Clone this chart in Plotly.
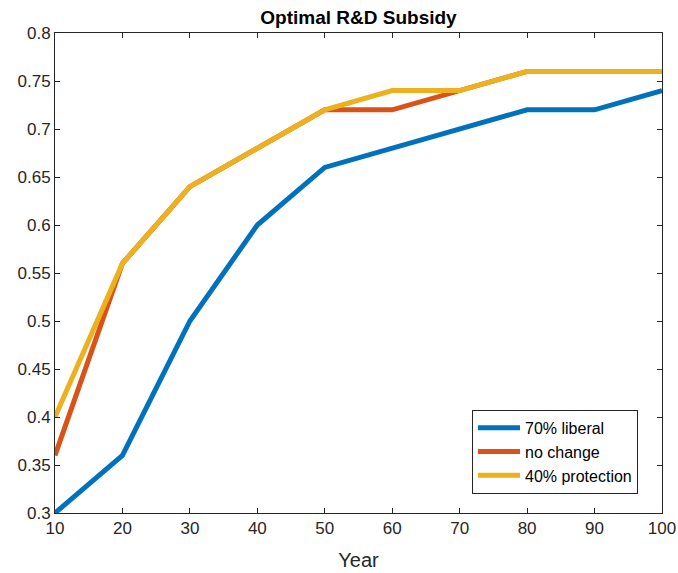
import plotly.graph_objects as go

years = [10, 20, 30, 40, 50, 60, 70, 80, 90, 100]
liberal_70 = [0.30, 0.36, 0.50, 0.60, 0.66, 0.68, 0.70, 0.72, 0.72, 0.74]
no_change = [0.36, 0.56, 0.64, 0.68, 0.72, 0.72, 0.74, 0.76, 0.76, 0.76]
protection_40 = [0.40, 0.56, 0.64, 0.68, 0.72, 0.74, 0.74, 0.76, 0.76, 0.76]

series_names = ["70% liberal", "no change", "40% protection"]
series_colors = ["#0072BD", "#D95319", "#EDB120"]

x_ticks = [10, 20, 30, 40, 50, 60, 70, 80, 90, 100]
y_ticks = [0.3, 0.35, 0.4, 0.45, 0.5, 0.55, 0.6, 0.65, 0.7, 0.75, 0.8]
y_ticklabels = ["0.3", "0.35", "0.4", "0.45", "0.5", "0.55", "0.6", "0.65", "0.7", "0.75", "0.8"]

FONT = "Liberation Sans, Arial, Helvetica"

fig = go.Figure()
for name, vals, col in zip(series_names, [liberal_70, no_change, protection_40], series_colors):
    fig.add_trace(go.Scatter(x=years, y=vals, mode="lines", name=name,
                             line=dict(color=col, width=5)))

axis_common = dict(showline=True, linecolor="#262626", linewidth=1, mirror="ticks",
                   ticks="inside", ticklen=5, tickcolor="#262626", showgrid=False,
                   zeroline=False, automargin=False,
                   tickfont=dict(family=FONT, size=17, color="#262626"))

fig.update_layout(
    width=678, height=573,
    margin=dict(l=55, r=16, t=33, b=60),
    paper_bgcolor="white", plot_bgcolor="white",
    title=dict(text="<b>Optimal R&D Subsidy</b>", x=0.5, xanchor="center",
               y=1 - 17 / 573, yanchor="middle", xref="paper",
               font=dict(family=FONT, size=19, color="black")),
    xaxis=dict(range=[10, 100], tickvals=x_ticks, ticktext=[str(t) for t in x_ticks],
               title=dict(text="Year", font=dict(family=FONT, size=20, color="#262626"), standoff=15),
               **axis_common),
    yaxis=dict(range=[0.3, 0.8], tickvals=y_ticks, ticktext=y_ticklabels, **axis_common),
    legend=dict(x=(472 - 55) / 607, y=0.04, xanchor="left", yanchor="bottom",
                bgcolor="white", bordercolor="#262626", borderwidth=1,
                font=dict(family=FONT, size=16, color="black"),
                itemwidth=42, tracegroupgap=0),
    showlegend=True,
)

fig.write_html("out.html", config={"displayModeBar": False},
               post_script="document.body.style.margin='0';")
